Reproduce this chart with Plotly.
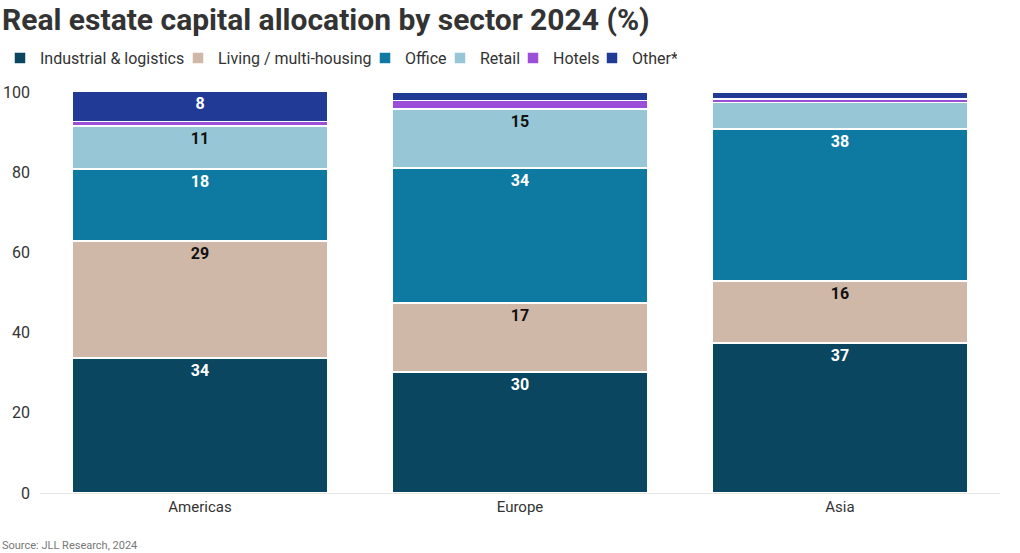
import plotly.graph_objects as go

regions = ["Americas", "Europe", "Asia"]
sectors = ["Industrial & logistics", "Living / multi-housing", "Office", "Retail", "Hotels", "Other*"]
industrial = [33.7, 30.2, 37.4]
living = [29.1, 17.2, 15.5]
office = [18.0, 33.6, 37.9]
retail = [10.7, 14.8, 6.6]
hotels = [1.1, 2.1, 0.9]
other = [7.6, 2.1, 1.7]
colors = ["#0b4660", "#d0b8a8", "#0e7aa1", "#97c6d6", "#9b4fd8", "#213a96"]
text_colors = ["white", "#111111", "white", "#111111", "white", "white"]
legend_widths = [133, 142, 30, 28, 34, 40]  # px, tightens legend spacing
series = [industrial, living, office, retail, hotels, other]

FONT = "Roboto"
fig = go.Figure()
for name, vals, col, tcol, lw in zip(sectors, series, colors, text_colors, legend_widths):
    txt = [str(int(v + 0.5)) if v >= 7 else "" for v in vals]
    fig.add_trace(go.Bar(
        x=regions, y=vals, name=name, marker_color=col,
        marker_line_color="white", marker_line_width=1.5,
        text=txt, textposition="inside", insidetextanchor="end",
        textangle=0, constraintext="none", legendwidth=lw,
        textfont=dict(color=tcol, size=16, family=FONT, weight="bold"),
    ))

fig.update_layout(
    barmode="stack", bargap=0.2,
    width=1020, height=553,
    margin=dict(l=40, r=20, t=92, b=60, autoexpand=False),
    paper_bgcolor="white", plot_bgcolor="white",
    font=dict(family=FONT, color="#333333", size=15),
    title=dict(text="<b>Real estate capital allocation by sector 2024 (%)</b>",
               x=0.0, xref="container", xanchor="left", y=1 - 19 / 553, yref="container",
               yanchor="middle", pad=dict(l=2, t=0, b=0, r=0),
               font=dict(size=30, color="#333333", family=FONT)),
    legend=dict(orientation="h", xref="container", x=-0.012, xanchor="left",
                yref="container", y=1 - 58 / 553, yanchor="middle",
                font=dict(size=16, color="#333333"), traceorder="normal",
                itemwidth=30, tracegroupgap=0, bgcolor="rgba(0,0,0,0)"),
    showlegend=True,
    uniformtext=dict(mode=False),
)
fig.update_yaxes(range=[0, 100], tickvals=[0, 20, 40, 60, 80, 100], showgrid=False,
                 zeroline=False, showline=False, ticks="", automargin=False,
                 ticklabelstandoff=9, tickfont=dict(size=16, color="#333333"))
fig.update_xaxes(showline=True, linecolor="#e6e6e6", linewidth=1, ticks="", automargin=False,
                 tickfont=dict(size=15, color="#333333"))
fig.add_annotation(text="Source: JLL Research, 2024", xref="paper", yref="paper",
                   x=-40 / 960, xanchor="left", y=(493 - 545) / 401, yanchor="middle",
                   showarrow=False, font=dict(size=11, color="#777777"))
fig.write_html("out.html", config={"displayModeBar": False},
               post_script="document.body.style.margin='0';document.body.style.overflow='hidden';")
